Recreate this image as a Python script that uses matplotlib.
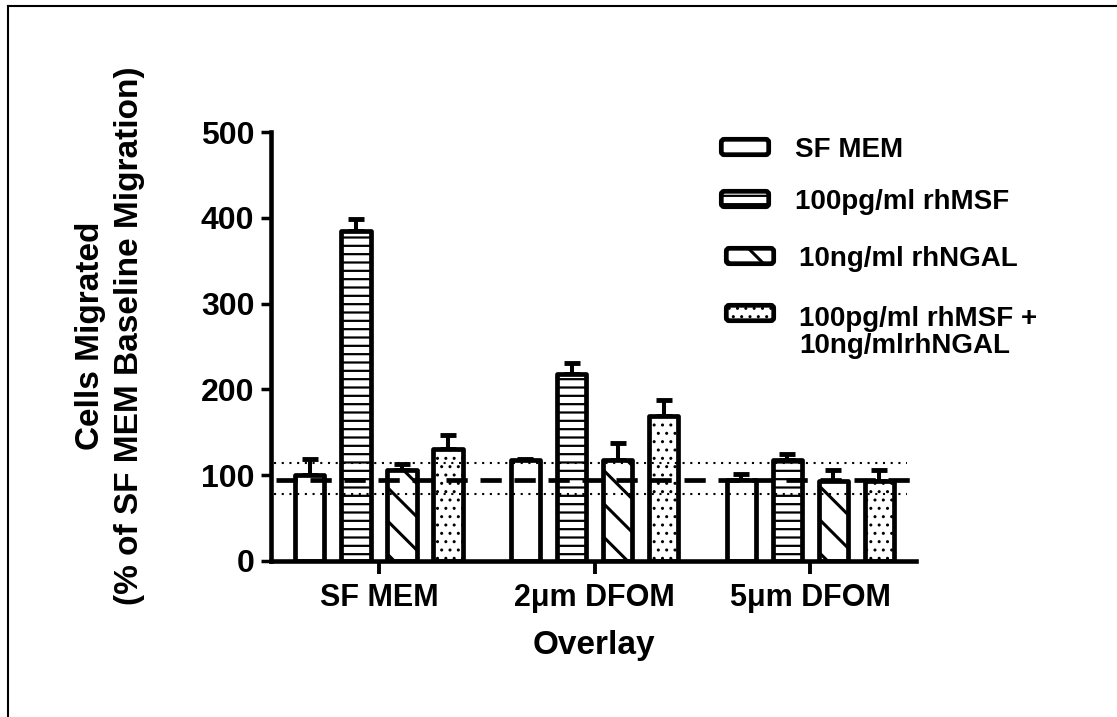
import numpy as np
import matplotlib
matplotlib.use("Agg")
import matplotlib.pyplot as plt
from matplotlib.patches import FancyBboxPatch

# --- data ---
groups = ["SF MEM", "2\u03bcm DFOM", "5\u03bcm DFOM"]
treatments = ["SF MEM", "100pg/ml rhMSF", "10ng/ml rhNGAL",
              "100pg/ml rhMSF +\n10ng/mlrhNGAL"]
sf_mem = [100, 118, 94]
sf_mem_err = [19, 1, 7]
rhmsf = [385, 218, 118]
rhmsf_err = [14, 13, 7]
rhngal = [106, 118, 93]
rhngal_err = [7, 20, 13]
combo = [130, 169, 93]
combo_err = [17, 19, 13]
baseline_mean = 94
baseline_band = [78, 114]

means = [sf_mem, rhmsf, rhngal, combo]
errs = [sf_mem_err, rhmsf_err, rhngal_err, combo_err]
hatches = ["", "--", "\\", ".."]
hatch_lw = [1.5, 1.6, 2.2, 1.0]

W, H = 1117, 717
plt.rcParams["font.family"] = ["Liberation Sans", "DejaVu Sans"]
plt.rcParams["font.weight"] = "bold"
plt.rcParams["hatch.color"] = "black"

fig = plt.figure(figsize=(W / 100, H / 100), dpi=100)
ax = fig.add_axes([271 / W, 1 - 561 / H, (916 - 271) / W, (561 - 132) / H])

# --- grouped bars with upward error bars ---
x = np.arange(len(groups))
step, width = 0.2135, 0.136
for i in range(len(treatments)):
    pos = x + (i - 1.5) * step
    with plt.rc_context({"hatch.linewidth": hatch_lw[i]}):
        bars = ax.bar(pos, means[i], width, facecolor="white", edgecolor="black",
                      linewidth=3.4, hatch=hatches[i], zorder=2)
    for b in bars:
        b.set_joinstyle("round")
    ax.errorbar(pos, means[i], yerr=[np.zeros(len(groups)), errs[i]], fmt="none",
                ecolor="black", elinewidth=2.9, capsize=6, capthick=3.5, zorder=1)

# baseline mean with band limits
ax.hlines(baseline_mean, -0.478, 2.483, colors="black", linewidth=3.4,
          linestyles=(0, (4.5, 2.7)), zorder=4)
ax.hlines(baseline_band, -0.487, 2.45, colors="black", linewidth=1.5,
          linestyles=(0, (1, 2.7)), zorder=4)

ax.set_xlim(-0.5, 2.49)
ax.set_ylim(0, 500)
ax.set_yticks(np.arange(0, 501, 100))
ax.set_xticks(x)
ax.set_xticklabels(groups)
for s in ["top", "right"]:
    ax.spines[s].set_visible(False)
for s in ["left", "bottom"]:
    ax.spines[s].set_linewidth(3.3)
ax.tick_params(axis="y", length=7, width=2.5, pad=5, labelsize=23)
ax.tick_params(axis="x", length=9, width=2.8, pad=7, labelsize=22)
ax.set_xlabel("Overlay", fontsize=24, fontweight="bold", labelpad=12)

# --- overlay in pixel coordinates: legend, y label, frame ---
ov = fig.add_axes([0, 0, 1, 1], zorder=5)
ov.set_xlim(0, W)
ov.set_ylim(H, 0)
ov.axis("off")
ov.patch.set_alpha(0)

ov.text(110, 336, "Cells Migrated\n(% of SF MEM Baseline Migration)",
        rotation=90, ha="center", va="center", multialignment="center",
        fontsize=24, fontweight="bold", linespacing=1.35)

centers = [147, 199, 256, 313]
box_x = [721.3, 721.3, 726.3, 726.3]
text_x = [795, 795, 799, 799]
line_h = 30
for i, label in enumerate(treatments):
    with plt.rc_context({"hatch.linewidth": hatch_lw[i]}):
        box = FancyBboxPatch((box_x[i], centers[i] - 7.7), 47.4, 15.4,
                             boxstyle="round,pad=0,rounding_size=3",
                             facecolor="white", edgecolor="black",
                             linewidth=3.4, hatch=hatches[i])
    ov.add_patch(box)
    # multi-line labels sit on the baseline of their last line
    ov.text(text_x[i], centers[i] + 10 + label.count("\n") * line_h, label,
            va="baseline", ha="left", fontsize=20, fontweight="bold",
            linespacing=1.05)

ov.plot([8, 8], [H, 6], color="black", linewidth=1.5, clip_on=False)
ov.plot([8, W], [6, 6], color="black", linewidth=1.5, clip_on=False)

fig.savefig("out.png", dpi=100)
